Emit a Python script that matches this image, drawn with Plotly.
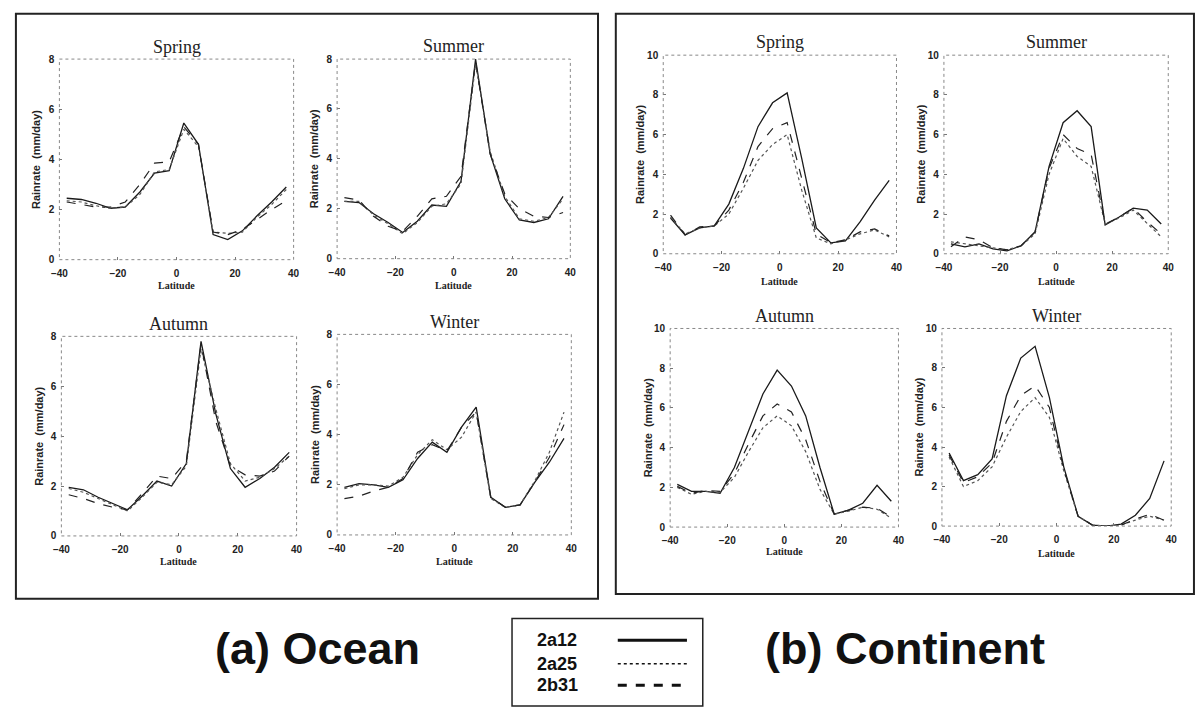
import plotly.graph_objects as go

W, H = 1196, 713

# ---------------- data ----------------
latitude = [-37.5, -32.5, -27.5, -22.5, -17.5, -12.5, -7.5, -2.5,
            2.5, 7.5, 12.5, 17.5, 22.5, 27.5, 32.5, 37.5]
series_names = ["2a12", "2a25", "2b31"]
x_ticks = [-40, -20, 0, 20, 40]

ocean_spring_2a12 = [2.45, 2.4, 2.25, 2.05, 2.1, 2.7, 3.45, 3.55, 5.45, 4.6, 1.0, 0.8, 1.15, 1.75, 2.3, 2.9]
ocean_spring_2a25 = [2.35, 2.3, 2.15, 2.05, 2.1, 2.6, 3.5, 3.6, 5.2, 4.5, 1.1, 1.05, 1.1, 1.7, 2.2, 2.8]
ocean_spring_2b31 = [2.3, 2.2, 2.1, 2.1, 2.3, 3.0, 3.85, 3.9, 5.3, 4.6, 1.1, 1.0, 1.2, 1.6, 2.0, 2.35]

ocean_summer_2a12 = [2.3, 2.25, 1.8, 1.45, 1.05, 1.5, 2.15, 2.1, 3.1, 8.0, 4.2, 2.4, 1.55, 1.45, 1.6, 2.5]
ocean_summer_2a25 = [2.3, 2.3, 1.75, 1.4, 1.0, 1.45, 2.1, 2.2, 3.0, 7.8, 4.3, 2.5, 1.6, 1.5, 1.65, 2.4]
ocean_summer_2b31 = [2.45, 2.35, 1.7, 1.3, 1.1, 1.7, 2.4, 2.5, 3.3, 7.9, 4.2, 2.6, 2.0, 1.7, 1.65, 1.85]

ocean_autumn_2a12 = [1.95, 1.85, 1.55, 1.3, 1.05, 1.6, 2.2, 2.0, 2.9, 7.8, 4.9, 2.7, 1.95, 2.3, 2.75, 3.35]
ocean_autumn_2a25 = [1.9, 1.75, 1.5, 1.25, 1.0, 1.55, 2.15, 2.05, 2.8, 7.5, 5.1, 2.9, 2.2, 2.35, 2.7, 3.2]
ocean_autumn_2b31 = [1.65, 1.5, 1.3, 1.15, 1.05, 1.7, 2.4, 2.3, 3.0, 7.7, 4.6, 2.8, 2.45, 2.4, 2.6, 3.2]

ocean_winter_2a12 = [1.9, 2.05, 2.0, 1.9, 2.2, 3.05, 3.7, 3.3, 4.3, 5.1, 1.5, 1.1, 1.2, 2.1, 2.9, 3.85]
ocean_winter_2a25 = [1.85, 2.0, 2.0, 1.95, 2.3, 3.2, 3.8, 3.4, 3.9, 4.9, 1.45, 1.1, 1.2, 2.15, 3.3, 4.9]
ocean_winter_2b31 = [1.45, 1.55, 1.75, 1.9, 2.25, 3.3, 3.6, 3.35, 4.3, 4.9, 1.5, 1.1, 1.2, 2.1, 3.1, 4.4]

cont_spring_2a12 = [1.8, 0.95, 1.3, 1.4, 2.5, 4.3, 6.4, 7.6, 8.1, 4.8, 1.3, 0.55, 0.65, 1.6, 2.7, 3.7]
cont_spring_2a25 = [1.85, 1.0, 1.3, 1.4, 2.0, 3.3, 4.7, 5.5, 6.0, 3.2, 0.8, 0.5, 0.7, 1.0, 1.2, 0.85]
cont_spring_2b31 = [1.95, 0.95, 1.35, 1.4, 2.2, 3.6, 5.4, 6.3, 6.6, 3.8, 1.0, 0.55, 0.7, 1.1, 1.25, 0.9]

cont_summer_2a12 = [0.5, 0.35, 0.5, 0.25, 0.15, 0.4, 1.1, 4.4, 6.6, 7.2, 6.4, 1.45, 1.85, 2.3, 2.2, 1.5]
cont_summer_2a25 = [0.6, 0.5, 0.4, 0.3, 0.2, 0.4, 1.0, 4.0, 5.8, 4.9, 4.4, 1.5, 1.8, 2.2, 1.5, 0.85]
cont_summer_2b31 = [0.35, 0.85, 0.7, 0.3, 0.2, 0.4, 1.1, 4.3, 6.0, 5.3, 5.0, 1.5, 1.85, 2.3, 1.6, 1.0]

cont_autumn_2a12 = [2.15, 1.8, 1.8, 1.7, 3.0, 4.9, 6.7, 7.9, 7.1, 5.6, 3.0, 0.65, 0.85, 1.2, 2.1, 1.3]
cont_autumn_2a25 = [2.0, 1.65, 1.8, 1.75, 2.5, 3.8, 5.0, 5.6, 5.1, 3.8, 1.9, 0.65, 0.8, 1.0, 0.9, 0.45]
cont_autumn_2b31 = [2.05, 1.7, 1.85, 1.8, 2.7, 4.2, 5.6, 6.2, 5.8, 4.4, 2.3, 0.65, 0.85, 1.0, 0.95, 0.5]

cont_winter_2a12 = [3.7, 2.3, 2.6, 3.4, 6.6, 8.5, 9.1, 6.5, 3.0, 0.5, 0.05, 0.0, 0.1, 0.55, 1.4, 3.3]
cont_winter_2a25 = [3.5, 2.0, 2.3, 3.0, 4.5, 5.8, 6.5, 5.5, 2.8, 0.5, 0.05, 0.0, 0.05, 0.3, 0.5, 0.3]
cont_winter_2b31 = [3.6, 2.2, 2.5, 3.2, 5.3, 6.6, 7.1, 6.0, 2.9, 0.5, 0.05, 0.0, 0.05, 0.35, 0.6, 0.3]

# ---------------- layout (pixel frames) ----------------
# (title, data, ymax, frame x0, x1, y0, y1, title_y, latitude_y)
panels = [
    ("Spring", (ocean_spring_2a12, ocean_spring_2a25, ocean_spring_2b31), 8, 52, 289, 54, 258, 42, 284),
    ("Summer", (ocean_summer_2a12, ocean_summer_2a25, ocean_summer_2b31), 8, 333, 569, 54, 257, 41, 284),
    ("Autumn", (ocean_autumn_2a12, ocean_autumn_2a25, ocean_autumn_2b31), 8, 54, 292, 336, 539, 323, 565),
    ("Winter", (ocean_winter_2a12, ocean_winter_2a25, ocean_winter_2b31), 8, 333, 570, 334, 538, 321, 565),
    ("Spring", (cont_spring_2a12, cont_spring_2a25, cont_spring_2b31), 10, 663, 899, 50, 252, 37, 280),
    ("Summer", (cont_summer_2a12, cont_summer_2a25, cont_summer_2b31), 10, 947, 1174, 50, 252, 37, 280),
    ("Autumn", (cont_autumn_2a12, cont_autumn_2a25, cont_autumn_2b31), 10, 670, 901, 328, 530, 315, 555),
    ("Winter", (cont_winter_2a12, cont_winter_2a25, cont_winter_2b31), 10, 945, 1177, 328, 529, 315, 557),
]

styles = [
    dict(color="#1a1a1a", width=1.3, dash="solid"),
    dict(color="#555555", width=1.2, dash="dot"),
    dict(color="#222222", width=1.2, dash="dash"),
]

fig = go.Figure()
layout = dict(width=W, height=H, margin=dict(l=0, r=0, t=0, b=0),
              paper_bgcolor="white", plot_bgcolor="white", showlegend=False)
annotations = []
shapes = []


def px(x):
    return x / W


def py(y):
    return 1 - y / H


tick_font = dict(family="Liberation Sans", size=10, color="#222", weight="bold")

for i, (title, data, ymax, x0, x1, y0, y1, ty, ly) in enumerate(panels, start=1):
    xa = "x" if i == 1 else f"x{i}"
    ya = "y" if i == 1 else f"y{i}"
    for name, vals, st in zip(series_names, data, styles):
        fig.add_trace(go.Scatter(x=latitude, y=vals, mode="lines", name=name,
                                 line=st, xaxis=xa, yaxis=ya, showlegend=False))
    layout["xaxis" if i == 1 else f"xaxis{i}"] = dict(
        domain=[px(x0), px(x1)], anchor=ya, range=[-40, 40], tickvals=x_ticks,
        showgrid=False, zeroline=False, showline=False, ticks="inside", ticklen=3,
        tickcolor="#777", tickfont=tick_font, ticklabelstandoff=6, fixedrange=True)
    layout["yaxis" if i == 1 else f"yaxis{i}"] = dict(
        domain=[py(y1), py(y0)], anchor=xa, range=[0, ymax], dtick=2,
        showgrid=False, zeroline=False, showline=False, ticks="inside", ticklen=3,
        tickcolor="#777", tickfont=tick_font, ticklabelstandoff=4, fixedrange=True)
    shapes.append(dict(type="rect", xref="paper", yref="paper",
                       x0=px(x0), x1=px(x1), y0=py(y1), y1=py(y0),
                       line=dict(color="#888", width=1, dash="dot")))
    annotations.append(dict(text=title, x=px((x0 + x1) / 2), y=py(ty), xref="paper", yref="paper",
                            showarrow=False, xanchor="center", yanchor="middle",
                            font=dict(family="Liberation Serif", size=18, color="#222")))
    annotations.append(dict(text="Latitude", x=px((x0 + x1) / 2), y=py(ly), xref="paper", yref="paper",
                            showarrow=False, xanchor="center", yanchor="middle",
                            font=dict(family="Liberation Serif", size=10, color="#222", weight="bold")))
    annotations.append(dict(text="Rainrate  (mm/day)", x=px(x0 - 23), y=py((y0 + y1) / 2),
                            xref="paper", yref="paper", showarrow=False, textangle=-90,
                            xanchor="center", yanchor="middle",
                            font=dict(family="Liberation Sans", size=11, color="#222", weight="bold")))

# outer boxes
shapes.append(dict(type="rect", xref="paper", yref="paper", x0=px(8), x1=px(597), y0=py(603), y1=py(8),
                   line=dict(color="#222", width=2)))
shapes.append(dict(type="rect", xref="paper", yref="paper", x0=px(615), x1=px(1200), y0=py(598), y1=py(8),
                   line=dict(color="#222", width=2)))

# big labels
annotations.append(dict(text="(a) Ocean", x=px(313), y=py(654), xref="paper", yref="paper",
                        showarrow=False, xanchor="center", yanchor="middle",
                        font=dict(family="Liberation Sans", size=45, color="#111", weight="bold")))
annotations.append(dict(text="(b) Continent", x=px(908), y=py(654), xref="paper", yref="paper",
                        showarrow=False, xanchor="center", yanchor="middle",
                        font=dict(family="Liberation Sans", size=45, color="#111", weight="bold")))

# legend box
shapes.append(dict(type="rect", xref="paper", yref="paper", x0=px(510), x1=px(703), y0=py(712), y1=py(623),
                   line=dict(color="#222", width=1.5)))
leg_y = [645, 669, 691]
for name, st, yy in zip(series_names, styles, leg_y):
    annotations.append(dict(text=name, x=px(533), y=py(yy), xref="paper", yref="paper",
                            showarrow=False, xanchor="left", yanchor="middle",
                            font=dict(family="Liberation Sans", size=18, color="#111", weight="bold")))
    lw = 3 if st["dash"] != "dot" else 1.5
    shapes.append(dict(type="line", xref="paper", yref="paper", x0=px(617), x1=px(687),
                       y0=py(yy), y1=py(yy), line=dict(color="#111", width=lw, dash=st["dash"])))

layout["annotations"] = annotations
layout["shapes"] = shapes
fig.update_layout(**layout)
fig.write_html("out.html")
